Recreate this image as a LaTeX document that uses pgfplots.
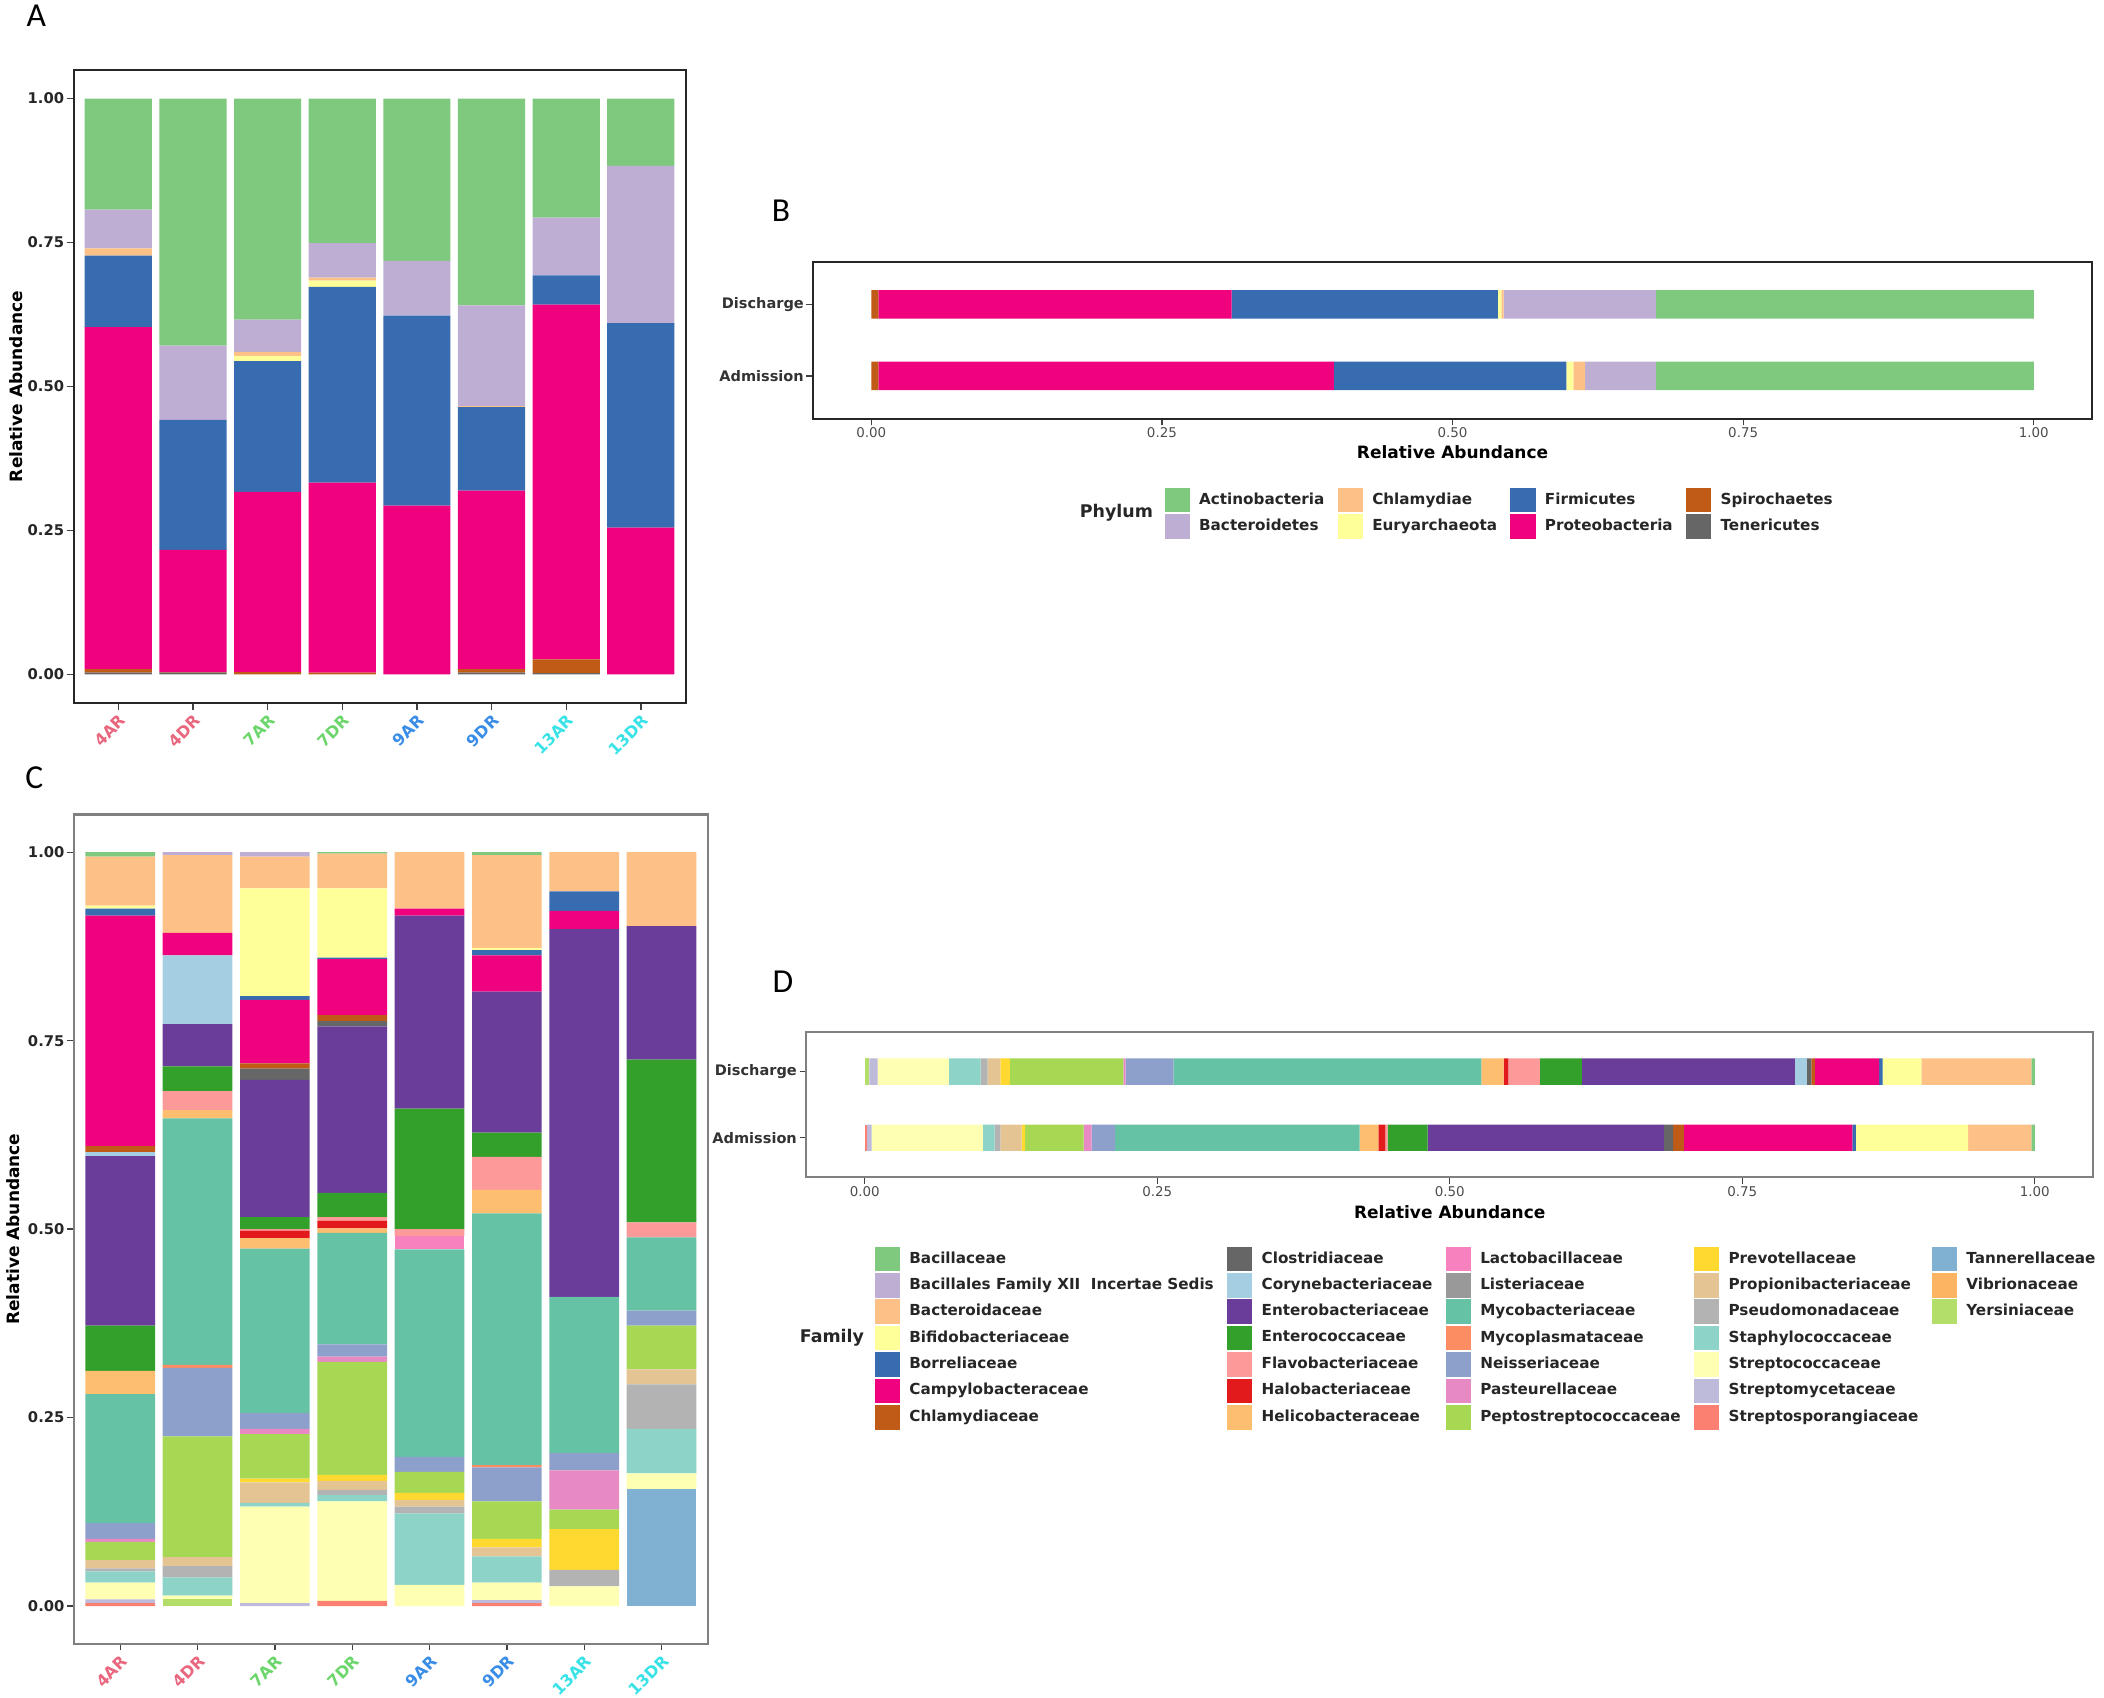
\documentclass[border=0pt]{standalone}
\usepackage{fontspec}
\setmainfont{DejaVu Sans}
\newfontfamily\letterfont{Carlito}
\usepackage{pgfplots}
\usepackage{pgfplotstable}
\pgfplotsset{compat=1.18}

% phylum colours (Accent)
\definecolor{pAct}{HTML}{7FC97F}
\definecolor{pBct}{HTML}{BEAED4}
\definecolor{pChl}{HTML}{FDC086}
\definecolor{pEur}{HTML}{FFFF99}
\definecolor{pFir}{HTML}{386CB0}
\definecolor{pPro}{HTML}{F0027F}
\definecolor{pSpi}{HTML}{BF5B17}
\definecolor{pTen}{HTML}{666666}
% family colours
\definecolor{fBcl}{HTML}{7FC97F}
\definecolor{fBXI}{HTML}{BEAED4}
\definecolor{fBac}{HTML}{FDC086}
\definecolor{fBif}{HTML}{FFFF99}
\definecolor{fBor}{HTML}{386CB0}
\definecolor{fCam}{HTML}{F0027F}
\definecolor{fChl}{HTML}{BF5B17}
\definecolor{fClo}{HTML}{666666}
\definecolor{fCor}{HTML}{A6CEE3}
\definecolor{fEnt}{HTML}{6A3D9A}
\definecolor{fEcc}{HTML}{33A02C}
\definecolor{fFla}{HTML}{FB9A99}
\definecolor{fHal}{HTML}{E31A1C}
\definecolor{fHel}{HTML}{FDBF6F}
\definecolor{fLac}{HTML}{F781BF}
\definecolor{fLis}{HTML}{999999}
\definecolor{fMyc}{HTML}{66C2A5}
\definecolor{fMpl}{HTML}{FC8D62}
\definecolor{fNei}{HTML}{8DA0CB}
\definecolor{fPas}{HTML}{E78AC3}
\definecolor{fPep}{HTML}{A6D854}
\definecolor{fPre}{HTML}{FFD92F}
\definecolor{fPro}{HTML}{E5C494}
\definecolor{fPse}{HTML}{B3B3B3}
\definecolor{fSta}{HTML}{8DD3C7}
\definecolor{fSco}{HTML}{FFFFB3}
\definecolor{fSmy}{HTML}{BEBADA}
\definecolor{fSsp}{HTML}{FB8072}
\definecolor{fTan}{HTML}{80B1D3}
\definecolor{fVib}{HTML}{FDB462}
\definecolor{fYer}{HTML}{B3DE69}
% sample label colours
\definecolor{lab4}{HTML}{E9677E}
\definecolor{lab7}{HTML}{6CD66C}
\definecolor{lab9}{HTML}{3A8DE6}
\definecolor{lab13}{HTML}{38E2E6}

% phylum per sample (A), rows in stacking order
\pgfplotstableread{
phy s1 s2 s3 s4 s5 s6 s7 s8
Ten .003 .003 0 0 0 .003 .002 0
Spi .006 .001 .004 .003 0 .006 .024 0
Pro .594 .212 .313 .330 .293 .310 .616 .255
Fir .124 .226 .227 .340 .330 .145 .051 .355
Eur 0 0 .009 .011 0 0 0 0
Chl .013 0 .007 .005 0 .002 0 0
Bct .067 .129 .056 .060 .095 .175 .100 .273
Act .193 .429 .384 .251 .282 .359 .207 .117
}\phyAraw
\pgfplotstabletranspose[colnames from=phy, input colnames to=sample]\phyA\phyAraw

% phylum per time point (B)
\pgfplotstableread{
phy Adm Dis
Ten 0 0
Spi .006 .006
Pro .392 .304
Fir .200 .229
Eur .006 .003
Chl .010 .002
Bct .061 .131
Act .325 .325
}\phyBraw
\pgfplotstabletranspose[colnames from=phy, input colnames to=sample]\phyB\phyBraw

% family per sample (C)
\pgfplotstableread{
fam s1 s2 s3 s4 s5 s6 s7 s8
Yer 0 .009 0 0 0 0 0 0
Vib 0 0 0 0 0 0 0 0
Tan 0 0 0 0 0 0 0 .155
Ssp .004 0 0 .007 0 .004 0 0
Smy .005 0 .004 0 0 .004 0 0
Sco .022 .005 .128 .132 .028 .023 .026 .021
Sta .015 .024 .005 .008 .095 .035 0 .059
Pse .004 .015 0 .007 .009 0 .022 .059
Pro .011 .012 .027 .012 .009 .012 0 .020
Pre 0 0 .005 .008 .009 .011 .054 0
Pep .024 .160 .059 .150 .028 .050 .026 .058
Pas .004 0 .007 .007 0 0 .052 0
Nei .021 .091 .021 .016 .020 .045 .023 .020
Mpl 0 .004 0 0 0 .003 0 0
Myc .171 .327 .218 .148 .275 .334 .207 .097
Lis 0 0 0 0 0 0 0 0
Lac 0 0 0 0 .018 0 0 0
Hel .031 .011 .014 .006 0 .031 0 0
Hal 0 0 .010 .010 0 0 0 0
Fla 0 .025 .002 .005 .009 .044 0 .020
Ecc .060 .033 .016 .032 .160 .032 0 .216
Ent .225 .056 .182 .221 .256 .187 .488 .177
Cor .005 .091 0 0 0 0 0 0
Clo 0 0 .015 .007 0 0 0 0
Chl .008 0 .007 .008 0 0 0 0
Cam .306 .030 .084 .074 .009 .048 .024 0
Bor .009 0 .005 .002 0 .007 .026 0
Bif .004 0 .143 .092 0 .003 0 0
Bac .065 .103 .042 .046 .075 .123 .052 .098
BXI 0 .004 .006 0 0 0 0 0
Bcl .006 0 0 .002 0 .004 0 0
}\famCraw
\pgfplotstabletranspose[colnames from=fam, input colnames to=sample]\famC\famCraw

% family per time point (D)
\pgfplotstableread{
fam Adm Dis
Yer 0 .004
Vib 0 0
Tan 0 0
Ssp .002 0
Smy .004 .007
Sco .095 .061
Sta .010 .027
Pse .005 .006
Pro .018 .011
Pre .003 .008
Pep .050 .097
Pas .007 .002
Nei .020 .041
Mpl 0 0
Myc .209 .263
Lis 0 0
Lac 0 0
Hel .016 .019
Hal .006 .004
Fla .002 .027
Ecc .034 .036
Ent .202 .182
Cor 0 .010
Clo .008 .004
Chl .009 .003
Cam .144 .055
Bor .003 .003
Bif .096 .033
Bac .054 .094
BXI 0 0
Bcl .003 .003
}\famDraw
\pgfplotstabletranspose[colnames from=fam, input colnames to=sample]\famD\famDraw

\newcommand{\key}[2]{\addlegendimage{legend image code/.code={\fill[#1] (0pt,-5.3pt) rectangle (10.8pt,5.3pt);}}\addlegendentry{#2}}
\newcommand{\nokey}{\addlegendimage{empty legend}\addlegendentry{}}

\pgfplotsset{
  panel/.style={
    scale only axis, enlargelimits=false, tick align=outside, tick pos=left,
    major tick length=3pt, minor tick num=0,
    tick style={draw=black!75, line width=0.6pt},
  },
  vbars/.style={
    panel, ybar stacked, bar width=0.9,
    xmin=0.4, xmax=8.6, ymin=-0.05, ymax=1.05,
    xtick={1,...,8},
    xticklabels={\textcolor{lab4}{4AR},\textcolor{lab4}{4DR},\textcolor{lab7}{7AR},\textcolor{lab7}{7DR},
      \textcolor{lab9}{9AR},\textcolor{lab9}{9DR},\textcolor{lab13}{13AR},\textcolor{lab13}{13DR}},
    ytick={0,0.25,0.5,0.75,1}, yticklabels={0.00,0.25,0.50,0.75,1.00},
    xticklabel style={rotate=45, anchor=north east, inner sep=1pt, font=\fontsize{7.2}{8}\selectfont\bfseries},
    yticklabel style={font=\fontsize{6.6}{7}\selectfont\bfseries, text=black!85, inner sep=1pt},
    ylabel={Relative Abundance},
    ylabel style={font=\fontsize{7.6}{8}\selectfont\bfseries, anchor=center},
  },
  hbars/.style={
    panel, xbar stacked, bar width=0.4,
    xmin=-0.05, xmax=1.05, ymin=0.4, ymax=2.6,
    ytick={1,2}, yticklabels={Admission,Discharge},
    xtick={0,0.25,0.5,0.75,1}, xticklabels={0.00,0.25,0.50,0.75,1.00},
    xticklabel style={font=\fontsize{6}{7}\selectfont, text=black!70, inner sep=0.8pt},
    yticklabel style={font=\fontsize{6.5}{7}\selectfont\bfseries, text=black!80, inner sep=1pt},
    xlabel={Relative Abundance},
    xlabel style={font=\fontsize{7.6}{8}\selectfont\bfseries, anchor=center},
    legend cell align=left,
    legend style={draw=none, fill=none, inner sep=0pt, outer sep=0pt, row sep=0.8pt,
      anchor=north west, nodes={inner sep=0.6pt},
      font=\fontsize{6.8}{7.5}\selectfont\bfseries, text=black!85,
      /tikz/every odd column/.append style={column sep=3.6pt},
      /tikz/every even column/.append style={column sep=5.4pt}},
  },
}

\begin{document}
\begin{tikzpicture}
\useasboundingbox (0,0) rectangle (940.8pt,-759pt);

% ---------------- A ----------------
\begin{axis}[vbars, at={(32.88pt,-314.4pt)}, anchor=south west,
  width=273.7pt, height=283.2pt,
  axis line style={draw=black!85, line width=0.9pt},
  ylabel style={at={(axis description cs:-0.094,0.5)}}]
\pgfplotsinvokeforeach{Ten,Spi,Pro,Fir,Eur,Chl,Bct,Act}{
  \addplot[fill=p#1, draw=none] table[x expr=\coordindex+1, y=#1]{\phyA};
}
\end{axis}

% ---------------- B ----------------
\begin{axis}[hbars, at={(363.6pt,-187.2pt)}, anchor=south west,
  width=571.8pt, height=70.2pt,
  axis line style={draw=black!85, line width=1pt},
  xlabel style={at={(axis description cs:0.5,-0.215)}},
  legend columns=4, legend style={at={(0.2749,-0.44)}}]
\pgfplotsinvokeforeach{Ten,Spi,Pro,Fir,Eur,Chl,Bct,Act}{
  \addplot[fill=p#1, draw=none, forget plot] table[y expr=\coordindex+1, x=#1]{\phyB};
}
\key{pAct}{Actinobacteria}
\key{pChl}{Chlamydiae}
\key{pFir}{Firmicutes}
\key{pSpi}{Spirochaetes}
\key{pBct}{Bacteroidetes}
\key{pEur}{Euryarchaeota}
\key{pPro}{Proteobacteria}
\key{pTen}{Tenericutes}
\end{axis}

% ---------------- C ----------------
\begin{axis}[vbars, at={(33pt,-735pt)}, anchor=south west,
  width=283.56pt, height=370.8pt,
  axis line style={draw=black!50, line width=0.9pt},
  ylabel style={at={(axis description cs:-0.095,0.5)}}]
\pgfplotsinvokeforeach{Yer,Vib,Tan,Ssp,Smy,Sco,Sta,Pse,Pro,Pre,Pep,Pas,Nei,Mpl,Myc,Lis,Lac,Hel,Hal,Fla,Ecc,Ent,Cor,Clo,Chl,Cam,Bor,Bif,Bac,BXI,Bcl}{
  \addplot[fill=f#1, draw=none] table[x expr=\coordindex+1, y=#1]{\famC};
}
\end{axis}

% ---------------- D ----------------
\begin{axis}[hbars, at={(360.5pt,-526.5pt)}, anchor=south west,
  width=575.5pt, height=65.1pt,
  axis line style={draw=black!50, line width=0.9pt},
  xlabel style={at={(axis description cs:0.5,-0.235)}},
  legend columns=5, legend style={at={(0.0534,-0.475)}}]
\pgfplotsinvokeforeach{Yer,Vib,Tan,Ssp,Smy,Sco,Sta,Pse,Pro,Pre,Pep,Pas,Nei,Mpl,Myc,Lis,Lac,Hel,Hal,Fla,Ecc,Ent,Cor,Clo,Chl,Cam,Bor,Bif,Bac,BXI,Bcl}{
  \addplot[fill=f#1, draw=none, forget plot] table[y expr=\coordindex+1, x=#1]{\famD};
}
\key{fBcl}{Bacillaceae}
\key{fClo}{Clostridiaceae}
\key{fLac}{Lactobacillaceae}
\key{fPre}{Prevotellaceae}
\key{fTan}{Tannerellaceae}
\key{fBXI}{Bacillales Family XII\ \ Incertae Sedis}
\key{fCor}{Corynebacteriaceae}
\key{fLis}{Listeriaceae}
\key{fPro}{Propionibacteriaceae}
\key{fVib}{Vibrionaceae}
\key{fBac}{Bacteroidaceae}
\key{fEnt}{Enterobacteriaceae}
\key{fMyc}{Mycobacteriaceae}
\key{fPse}{Pseudomonadaceae}
\key{fYer}{Yersiniaceae}
\key{fBif}{Bifidobacteriaceae}
\key{fEcc}{Enterococcaceae}
\key{fMpl}{Mycoplasmataceae}
\key{fSta}{Staphylococcaceae}
\nokey
\key{fBor}{Borreliaceae}
\key{fFla}{Flavobacteriaceae}
\key{fNei}{Neisseriaceae}
\key{fSco}{Streptococcaceae}
\nokey
\key{fCam}{Campylobacteraceae}
\key{fHal}{Halobacteriaceae}
\key{fPas}{Pasteurellaceae}
\key{fSmy}{Streptomycetaceae}
\nokey
\key{fChl}{Chlamydiaceae}
\key{fHel}{Helicobacteraceae}
\key{fPep}{Peptostreptococcaceae}
\key{fSsp}{Streptosporangiaceae}
\end{axis}

% legend titles and panel letters
\node[font=\fontsize{7.8}{8}\selectfont\bfseries, text=black!85] at (499.2pt,-229.2pt) {Phylum};
\node[font=\fontsize{7.8}{8}\selectfont\bfseries, text=black!85] at (372pt,-598.2pt) {Family};
\node[font=\letterfont\fontsize{15}{16}\selectfont] at (16.2pt,-7.2pt) {A};
\node[font=\letterfont\fontsize{15}{16}\selectfont] at (349.2pt,-94.2pt) {B};
\node[font=\letterfont\fontsize{15}{16}\selectfont] at (15.3pt,-347.7pt) {C};
\node[font=\letterfont\fontsize{15}{16}\selectfont] at (350.1pt,-438.9pt) {D};
\end{tikzpicture}
\end{document}
